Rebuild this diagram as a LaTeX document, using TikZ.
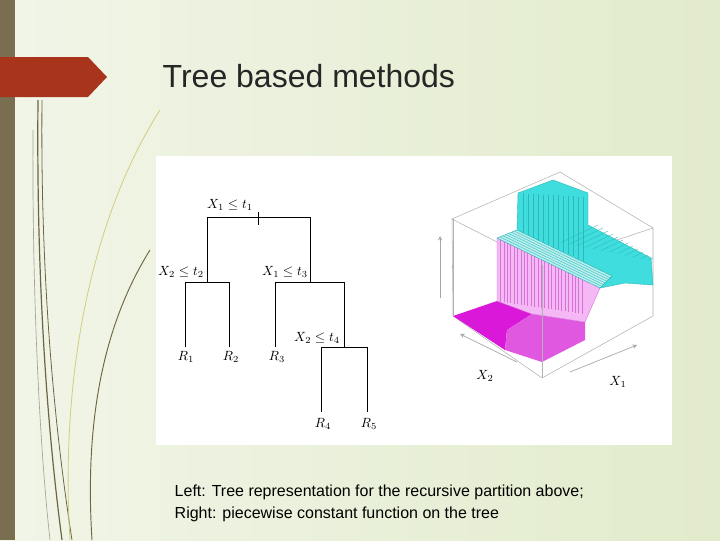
\documentclass[tikz,border=0pt]{standalone}
\usepackage{fontspec}
\setmainfont{Liberation Sans}
\usepackage{amsmath}
\definecolor{bgl}{HTML}{F1F5E8}
\definecolor{bgr}{HTML}{E2EBCB}
\definecolor{strip}{HTML}{7A6E50}
\definecolor{tab}{HTML}{A8341C}
\definecolor{deco}{HTML}{6E6540}
\definecolor{cy}{HTML}{3FDDDD}
\definecolor{cyd}{HTML}{2BB8B8}
\definecolor{cyl}{HTML}{B8EEEE}
\definecolor{mgd}{HTML}{D918D9}
\definecolor{mgm}{HTML}{E058E0}
\definecolor{pk}{HTML}{F4B8F4}
\definecolor{pkd}{HTML}{D870D8}
\begin{document}
\begin{tikzpicture}[x=0.75pt,y=-0.75pt,
  edge/.style={line width=0.7pt},
  mlab/.style={font=\normalsize,inner sep=1pt},
  box/.style={gray!60,line width=0.4pt},
  ax/.style={gray!70,line width=0.5pt,-stealth}]
\useasboundingbox (0,0) rectangle (720,540);
\shade[left color=bgl, right color=bgr] (0,0) rectangle (720,540);
\fill[strip] (0,0) rectangle (15,540);
\draw[deco,line width=0.9pt] (38,100) .. controls (36,300) and (50,450) .. (62,540);
\draw[deco,line width=0.6pt] (42,100) .. controls (40,300) and (58,450) .. (72,540);
\draw[deco!60,line width=0.5pt] (33,130) .. controls (32,300) and (40,450) .. (50,540);
\draw[olive!40,line width=0.6pt] (160,110) .. controls (90,220) and (60,380) .. (70,540);
\draw[deco,line width=0.7pt] (150,250) .. controls (100,330) and (85,430) .. (92,540);
\fill[tab] (0,57) -- (88,57) -- (107,77) -- (88,97) -- (0,97) -- cycle;
\node[anchor=west,font=\fontsize{24}{28}\selectfont,text=black!85] (title) at (158,76) {Tree based methods};
\fill[white] (156,156) rectangle (672,445);
% tree
\node[mlab] (n1) at (230,205) {$X_1\le t_1$};
\node[mlab] (n2) at (181,272) {$X_2\le t_2$};
\node[mlab] (n3) at (285,272) {$X_1\le t_3$};
\node[mlab] (n4) at (317,338) {$X_2\le t_4$};
\node[mlab] (r1) at (186,357) {$R_1$};
\node[mlab] (r2) at (231,357) {$R_2$};
\node[mlab] (r3) at (277,357) {$R_3$};
\node[mlab] (r4) at (323,424) {$R_4$};
\node[mlab] (r5) at (369,424) {$R_5$};
\draw[edge] (207,282) -- (207,217) -- (310,217) -- (310,282);
\draw[edge] (258,212) -- (258,225);
\draw[edge] (185,347) -- (185,282) -- (229,282) -- (229,347);
\draw[edge] (275,347) -- (275,282) -- (344,282) -- (344,347);
\draw[edge] (321,412) -- (321,347) -- (367,347) -- (367,412);
% 3d box back
\draw[box] (452,219) -- (560,172) -- (653,228) -- (653,316) -- (542,378) -- (453,316) -- cycle;
\draw[box] (452,219) -- (542,265) -- (653,228);
% surfaces
\fill[mgd] (453,316) -- (497,301) -- (532,314) -- (507,330) -- (505,350) -- cycle;
\fill[mgm] (505,350) -- (507,330) -- (532,314) -- (585,322) -- (585,340) -- (542,362) -- cycle;
\filldraw[fill=pk,draw=pkd,line width=0.3pt] (497,238) -- (600,288) -- (585,322) -- (532,314) -- (497,301) -- cycle;
\foreach \i in {1,...,25}{\draw[pkd,line width=0.25pt] ({497+\i*3.4},{238+\i*1.65}) -- ({497+\i*3.4},{301+\i*0.5});}
\filldraw[fill=cy,draw=cyd,line width=0.3pt] (517,230) -- (518,193) -- (553,180) -- (588,193) -- (588,225) -- (651,258) -- (653,285) -- (625,283) -- (600,288) -- (612,276) -- cycle;
\foreach \i in {1,...,13}{\draw[cyd,line width=0.25pt] ({518+\i*5},{193+\i*0.3}) -- ({518+\i*5},{231+\i*2.3});}
\foreach \i in {1,...,12}{\draw[cyd,line width=0.25pt] ({553+\i*8},{241+\i*1.6}) -- ({593+\i*5},{222+\i*3});}
\filldraw[fill=cyl,draw=cyd,line width=0.3pt] (497,238) -- (517,230) -- (612,276) -- (600,288) -- cycle;
\foreach \i in {1,...,6}{\draw[cyd,line width=0.25pt] ({497+\i*2.9},{238-\i*1.15}) -- ({600+\i*1.7},{288-\i*1.7});}
\draw[box] (542,265) -- (542,378);
\draw[box] (453,219) -- (453,316);
% axes
\draw[ax] (440,298) -- (440,236);
\draw[ax] (517,362) -- (460,334);
\draw[ax] (570,372) -- (637,345);
\node[mlab] (x2) at (485,376) {$X_2$};
\node[mlab] (x1) at (618,382) {$X_1$};
\node[anchor=west,align=left,font=\fontsize{12}{16.5}\selectfont] (cap) at (170,503) {Left: Tree representation for the recursive partition above;\\Right: piecewise constant function on the tree};
\end{tikzpicture}
\end{document}
